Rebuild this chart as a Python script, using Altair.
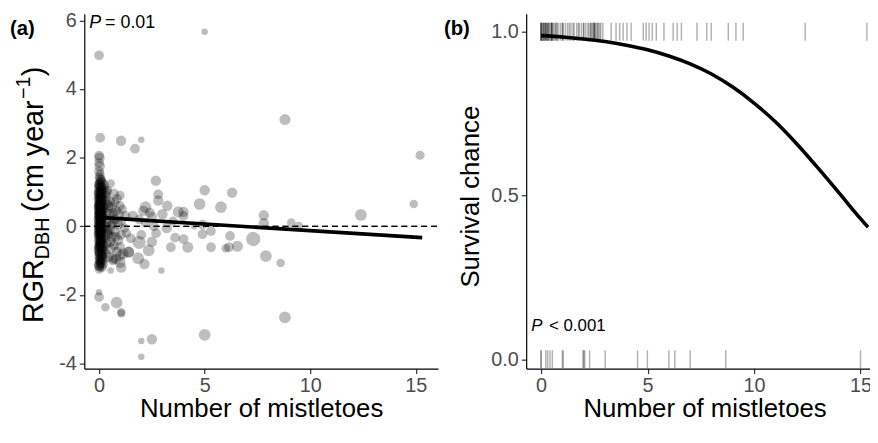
import altair as alt
import pandas as pd

FONT = "Liberation Sans"

# ---------------- Panel (a): RGR vs number of mistletoes ----------------
# trees with (almost) no mistletoes: dense column at x ~ 0
zero_x = [
    0.00, 0.05, 0.10, 0.02, 0.08, 0.00, 0.12, 0.04, 0.06, 0.00, 0.10, 0.03, 0.07, 0.00, 0.12, 0.05,
    0.02, 0.09, 0.00, 0.06, 0.11, 0.03, 0.00, 0.08, 0.05, 0.01, 0.10, 0.04, 0.00, 0.07, 0.12, 0.02,
    0.06, 0.00, 0.09, 0.04, 0.00, 0.11, 0.03, 0.07, 0.00, 0.05, 0.10, 0.02, 0.08, 0.00, 0.06, 0.12,
    0.03, 0.00, 0.09, 0.05, 0.01, 0.07, 0.00, 0.11, 0.04, 0.00, 0.08, 0.02, 0.06, 0.00, 0.04, 0.01,
    0.00, 0.03, 0.00, 0.02, 0.00, 0.05, 0.00, 0.07, 0.02, 0.00, 0.09, 0.00, 0.04, 0.00, 0.10,
    0.14, 0.00, 0.04, 0.10, 0.02, 0.07, 0.12, 0.15, 0.00, 0.05, 0.13, 0.03, 0.08, 0.00, 0.11, 0.06,
    0.14, 0.01, 0.09, 0.04, 0.00, 0.12, 0.07, 0.02, 0.15, 0.05, 0.00, 0.10, 0.03, 0.13, 0.08, 0.00,
    0.06, 0.11, 0.02, 0.14, 0.04, 0.00, 0.09, 0.12, 0.01, 0.07, 0.15, 0.03, 0.00, 0.10, 0.05, 0.13,
    0.08, 0.00, 0.02, 0.11, 0.06, 0.14, 0.00, 0.04, 0.09, 0.12, 0.03, 0.07, 0.00, 0.15, 0.05, 0.10,
    0.01, 0.13, 0.08, 0.00, 0.06, 0.11, 0.02, 0.14, 0.04, 0.00, 0.09, 0.12, 0.03, 0.07, 0.00, 0.10,
]
zero_y = [
    1.45, 1.38, 1.30, 1.22, 1.15, 1.10, 1.05, 1.00, 0.95, 0.90, 0.86, 0.82, 0.78, 0.74, 0.70, 0.66,
    0.62, 0.58, 0.55, 0.52, 0.48, 0.45, 0.42, 0.39, 0.36, 0.33, 0.30, 0.27, 0.24, 0.21, 0.18, 0.15,
    0.12, 0.09, 0.06, 0.03, 0.00, -0.03, -0.06, -0.09, -0.12, -0.15, -0.18, -0.21, -0.25, -0.29, -0.33, -0.37,
    -0.41, -0.45, -0.50, -0.55, -0.60, -0.65, -0.70, -0.76, -0.82, -0.88, -0.94, -1.00, -1.06, -1.12, -1.18, -1.25,
    1.60, 1.75, 1.85, 2.00, 2.06, 1.52, 1.25, 0.92, 0.60, 0.35, 0.15, -0.20, -0.48, -0.78, -1.02,
    -1.19, -1.15, -1.10, -1.04, -0.98, -0.93, -0.87, -0.81, -0.76, -0.71, -0.66, -0.61, -0.57, -0.52, -0.47, -0.43,
    -0.38, -0.34, -0.29, -0.25, -0.21, -0.17, -0.13, -0.09, -0.05, -0.01, 0.02, 0.06, 0.10, 0.13, 0.17, 0.20,
    0.24, 0.28, 0.31, 0.35, 0.38, 0.41, 0.44, 0.48, 0.51, 0.54, 0.57, 0.61, 0.64, 0.67, 0.71, 0.74,
    0.77, 0.80, 0.84, 0.88, 0.91, 0.94, 0.98, 1.02, 1.06, 1.09, 1.13, 1.17, 1.21, 1.26, 1.31, 1.36,
    0.46, 0.12, -0.22, 0.68, -0.53, 0.31, 0.97, -0.84, 0.04, 0.55, -0.35, 0.83, -0.07, 0.22, -0.62, 0.40,
]
zero_d = [
    14, 16, 15, 17, 14, 16, 15, 17, 13, 16, 15, 14, 17, 15, 16, 14,
    16, 15, 17, 14, 16, 15, 13, 16, 15, 17, 14, 16, 15, 16, 14, 17,
    15, 16, 14, 15, 17, 15, 16, 14, 15, 17, 15, 16, 14, 16, 15, 15,
    17, 14, 16, 15, 16, 15, 17, 14, 16, 15, 16, 14, 15, 16, 15, 14,
    15, 16, 15, 16, 15, 14, 13, 14, 13, 14, 13, 14, 13, 14, 13,
    15, 16, 14, 17, 15, 13, 16, 15, 14, 17, 15, 16, 14, 15, 17, 16,
    14, 15, 16, 13, 17, 15, 14, 16, 15, 17, 14, 16, 15, 13, 16, 17,
    15, 14, 16, 15, 17, 14, 16, 15, 13, 16, 15, 17, 14, 16, 15, 14,
    16, 17, 15, 14, 16, 15, 17, 13, 15, 16, 14, 17, 15, 16, 14, 15,
    17, 15, 16, 14, 15, 17, 16, 15, 14, 16, 15, 17, 14, 16, 15, 16,
]

# trees with a fractional number of mistletoes below ~1.6
low_x = [
    0.25, 0.40, 0.55, 0.70, 0.85, 1.00, 0.30, 0.45, 0.60, 0.80, 0.95, 1.10, 1.25, 0.35, 0.50, 0.65,
    0.90, 1.05, 1.20, 0.30, 0.40, 0.60, 0.75, 0.90, 1.05, 1.30, 0.35, 0.55, 0.70, 0.85, 1.00, 1.15,
    0.45, 0.65, 0.80, 1.00, 1.05, 0.55, 1.40, 1.60, 1.50, 0.20, 0.25, 0.15,
    0.22, 0.33, 0.50, 0.67, 0.20, 0.33, 0.50, 0.25, 0.40, 0.75, 1.00, 0.20, 0.33, 0.50, 0.67, 0.25,
    0.40, 0.20, 0.30, 0.50, 0.80, 1.00, 0.25, 0.60, 0.20, 0.33, 0.45, 0.75,
]
low_y = [
    1.20, 1.05, 1.25, 0.95, 0.80, 0.90, 0.75, 0.60, 0.55, 0.45, 0.35, 0.50, 0.30, 0.40, 0.20, 0.10,
    0.05, 0.15, -0.05, 0.00, -0.20, -0.30, -0.15, -0.40, -0.25, -0.20, -0.50, -0.65, -0.55, -0.75, -0.60, -0.80,
    -0.90, -1.00, -0.95, -1.05, -1.20, -1.29, -0.75, 0.30, -0.35, -1.10, 0.55, -0.65,
    1.10, 0.85, 0.70, 0.40, 0.25, 0.10, -0.10, -0.35, -0.15, 0.20, 0.60, -0.55, -0.80, -0.45, -0.95, 0.95,
    0.65, 0.45, -0.05, 0.35, -0.30, -0.85, -0.70, 0.05, -0.95, 1.00, -0.25, 0.70,
]
low_d = [
    15, 14, 13, 16, 15, 14, 16, 15, 17, 16, 15, 14, 15, 16, 17, 15,
    16, 15, 14, 16, 15, 16, 15, 16, 15, 14, 16, 17, 15, 16, 15, 16,
    15, 14, 16, 17, 16, 10, 17, 16, 15, 15, 14, 15,
    16, 15, 17, 15, 14, 16, 15, 17, 16, 15, 14, 16, 15, 17, 15, 16,
    14, 15, 16, 17, 15, 16, 14, 15, 16, 17, 15, 14,
]

# trees with more mistletoes and the outliers
high_x = [
    1.70, 1.04, 2.00, 0.05, 2.69, 2.80, 2.80, 3.23, 2.20, 2.10, 2.40, 2.50, 1.90, 2.20, 2.60, 3.00,
    3.75, 4.00, 4.00, 3.50, 3.20, 3.60, 3.40, 4.00, 4.20, 2.35, 1.90, 1.40, 1.85, 2.15, 2.95, 2.50,
    2.70, 2.00, 4.50, 4.90, 5.30, 4.90, 4.76, 5.00, 6.30, 5.77, 5.30, 6.00, 6.15, 6.55, 6.20, 7.30,
    7.90, 8.60, 7.80, 7.80, 9.10, 9.45, 12.40, 14.90, 15.20, 8.80, 5.00, 0.00,
    0.00, 0.00, 0.30, 0.83, 1.05, 1.05, 2.00, 2.50, 2.00, 5.00, 8.80,
]
high_y = [
    2.26, 2.49, 2.52, 2.58, 1.33, 0.93, 0.75, 0.60, 0.56, 0.45, 0.40, 0.28, 0.20, 0.10, 0.00, 0.35,
    0.42, 0.42, 0.30, 0.15, -0.05, -0.33, -0.61, -0.37, -0.61, -0.70, -0.47, -0.75, -0.93, -1.10, -1.29, -0.45,
    -0.20, -0.25, 0.00, 0.05, -0.14, -0.23, 0.65, 1.05, 0.98, 0.56, -0.61, -0.64, -0.61, -0.58, -0.28, -0.37,
    -0.87, -1.07, 0.32, 0.09, 0.11, 0.00, 0.33, 0.65, 2.07, 3.11, 5.67, 4.98,
    -2.06, -1.92, -2.36, -2.22, -2.50, -2.54, -3.34, -3.29, -3.80, -3.16, -2.65,
]
high_d = [
    15, 16, 10, 15, 16, 15, 16, 16, 18, 16, 15, 16, 15, 14, 15, 16,
    17, 16, 15, 14, 16, 15, 15, 15, 17, 18, 20, 17, 18, 16, 10, 16,
    15, 15, 10, 15, 15, 15, 18, 16, 16, 18, 15, 13, 15, 17, 15, 22,
    18, 13, 16, 16, 13, 14, 18, 13, 14, 17, 10, 15,
    15, 10, 13, 18, 13, 12, 10, 16, 10, 18, 18,
]

fit_x = [0.0, 15.3]
fit_y = [0.26, -0.33]

# ---------------- Panel (b): survival vs number of mistletoes ----------------
curve_x = [0, 1, 2, 3, 4, 5, 6, 7, 8, 9, 10, 11, 12, 13, 14, 15, 15.35]
curve_p = [0.988, 0.984, 0.978, 0.970, 0.959, 0.945, 0.926, 0.902, 0.871, 0.831,
           0.782, 0.725, 0.658, 0.584, 0.507, 0.429, 0.403]

alive_x = [
    0.00, 0.00, 0.00, 0.00, 0.05, 0.10, 0.10, 0.13, 0.17, 0.20, 0.20, 0.25, 0.25, 0.30, 0.33, 0.33,
    0.38, 0.42, 0.47, 0.50, 0.50, 0.50, 0.55, 0.60, 0.67, 0.70, 0.75, 0.80, 0.90, 1.00, 1.00, 1.05,
    1.15, 1.25, 1.33, 1.40, 1.50, 1.55, 1.67, 1.75, 1.80, 1.90, 2.00, 2.00, 2.10, 2.20, 2.25, 2.33,
    2.33, 2.40, 2.45, 2.50, 2.50, 2.50, 2.55, 2.60, 2.67, 2.67, 2.75, 2.80, 2.90,
    3.29, 3.52, 3.69, 3.85, 4.03, 4.23, 4.80, 4.93, 5.07, 5.22, 5.41, 5.77, 6.20, 6.39, 6.59,
    7.32, 7.78, 7.99, 8.79, 9.15, 9.49, 12.40, 15.30,
]
dead_x = [0.00, 0.00, 0.22, 0.31, 0.42, 0.53, 1.00, 1.04, 1.97, 2.00, 2.05, 2.28, 3.01,
          4.53, 4.99, 6.00, 6.28, 7.00, 8.67, 15.00]

# ---------------- tables ----------------
df_a = pd.DataFrame({
    "mist": zero_x + low_x + high_x,
    "rgr": zero_y + low_y + high_y,
    "dbh": zero_d + low_d + high_d,
})
df_fit = pd.DataFrame({"mist": fit_x, "rgr": fit_y})
df_curve = pd.DataFrame({"mist": curve_x, "p": curve_p})
df_rug = pd.DataFrame({
    "mist": alive_x + dead_x,
    "p": [1] * len(alive_x) + [0] * len(dead_x),
})

# ---------------- layout (one view, two panels through scale ranges) ----------------
W, H = 793, 358              # whole drawing width (clipped at the right like the figure)
A_RANGE = [0, 357]           # panel (a) plot area
B_RANGE = [446, 806]         # panel (b) plot area (extends past the right edge)
B_OFF = 446

XA_DOM = [-0.7, 16.05]
sc_xa = alt.Scale(domain=XA_DOM, range=A_RANGE, nice=False, zero=False)
sc_ya = alt.Scale(domain=[-4.144, 6.188], nice=False, zero=False)
sc_xb = alt.Scale(domain=[-0.7, 16.05], range=B_RANGE, nice=False, zero=False)
sc_yb = alt.Scale(domain=[-0.0287, 1.0545], nice=False, zero=False)

ax_xa = alt.Axis(values=[0, 5, 10, 15], title="Number of mistletoes", orient="bottom",
                 labelPadding=2, titleBaseline="alphabetic", titleY=48.5)
ax_ya = alt.Axis(values=[-4, -2, 0, 2, 4, 6], title=None, orient="left",
                 labelExpr="'' + datum.value")
ax_xb = alt.Axis(values=[0, 5, 10, 15], title="Number of mistletoes", orient="bottom",
                 labelPadding=2, titleBaseline="alphabetic", titleY=48.5)
ax_yb = alt.Axis(values=[0, 0.5, 1], format=".1f", title="Survival chance", orient="left",
                 offset=-B_OFF, titleAngle=270, titleBaseline="alphabetic",
                 titleAlign="center", titleX=-48, titleY=184)


def label(text, x, y, size, **kw):
    return alt.Chart(pd.DataFrame({"t": [text]})).mark_text(
        font=FONT, fontSize=size, color="black", **kw
    ).encode(text="t:N", x=alt.value(x), y=alt.value(y))


points = alt.Chart(df_a).mark_circle(color="black", opacity=0.26).encode(
    x=alt.X("mist:Q", scale=sc_xa, axis=ax_xa),
    y=alt.Y("rgr:Q", scale=sc_ya, axis=ax_ya),
    size=alt.Size("dbh:Q", scale=alt.Scale(type="pow", exponent=2, domain=[0, 30], range=[0, 390]),
                  legend=None),
)
zero_line = alt.Chart(df_fit).mark_rule(color="black", strokeDash=[6, 4], strokeWidth=1.3).encode(
    x=alt.datum(XA_DOM[0]), x2=alt.datum(XA_DOM[1]), y=alt.datum(0))
fit_line = alt.Chart(df_fit).mark_line(color="black", strokeWidth=3.6).encode(
    x="mist:Q", y="rgr:Q")

TX = -42
panel_a = alt.layer(
    points, zero_line, fit_line,
    label("P", 5, 14, 18, fontStyle="italic", align="left", baseline="alphabetic"),
    label("= 0.01", 21, 14, 18, align="left", baseline="alphabetic"),
    label("(a)", -75, 21, 20.5, fontWeight="bold", align="left", baseline="alphabetic"),
    # composite y title: RGR_DBH (cm year^-1)
    label("RGR", TX, 312, 29, angle=270, align="left", baseline="alphabetic"),
    label("DBH", TX + 6, 247.6, 20, angle=270, align="left", baseline="alphabetic"),
    label("(cm year", TX, 200, 29, angle=270, align="left", baseline="alphabetic"),
    label("\u22121", TX - 13, 86, 20, angle=270, align="left", baseline="alphabetic"),
    label(")", TX, 63, 29, angle=270, align="left", baseline="alphabetic"),
)

rug = alt.Chart(df_rug).mark_tick(orient="vertical", size=18, thickness=1.5,
                                  color="black", opacity=0.3).encode(
    x=alt.X("mist:Q", scale=sc_xb, axis=ax_xb),
    y=alt.Y("p:Q", scale=sc_yb, axis=ax_yb),
)
curve = alt.Chart(df_curve).mark_line(color="black", strokeWidth=3.6, interpolate="monotone").encode(
    x="mist:Q", y="p:Q")

panel_b = alt.layer(
    rug, curve,
    label("P", B_OFF + 5, 320, 17, fontStyle="italic", align="left", baseline="alphabetic"),
    label("< 0.001", B_OFF + 23, 320, 17, align="left", baseline="alphabetic"),
    label("(b)", B_OFF - 83, 21, 20.5, fontWeight="bold", align="left", baseline="alphabetic"),
)

chart = alt.layer(panel_a, panel_b).resolve_scale(
    x="independent", y="independent"
).properties(
    width=W, height=H,
    autosize=alt.AutoSizeParams(type="none"),
    padding={"left": 77, "top": 4, "right": 0, "bottom": 54},
).configure_view(stroke=None).configure_axis(
    grid=False,
    domainColor="black", domainWidth=1.2,
    tickColor="#333333", tickWidth=1.2, tickSize=5,
    labelFont=FONT, labelFontSize=20, labelColor="#4D4D4D", labelPadding=3,
    titleFont=FONT, titleFontSize=26, titleColor="black", titleFontWeight="normal",
)

chart.save("out.html", embed_options={"renderer": "svg", "actions": False})
